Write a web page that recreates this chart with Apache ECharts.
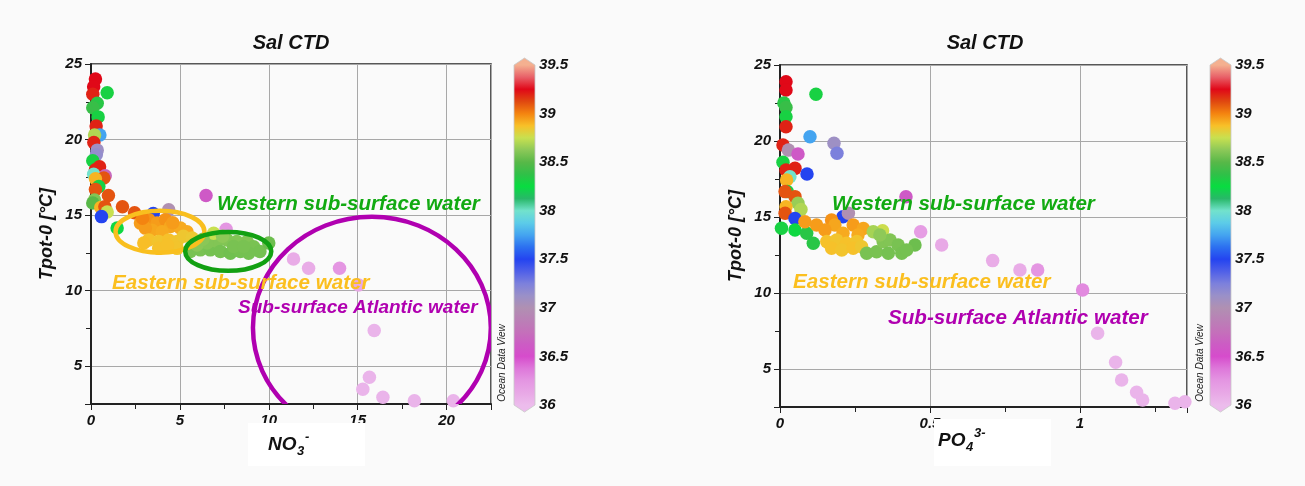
<!DOCTYPE html>
<html>
<head>
<meta charset="utf-8">
<script src="https://cdn.jsdelivr.net/npm/echarts@6/dist/echarts.min.js"></script>
<style>
  html, body { margin: 0; padding: 0; background: #fafafa; }
  #chart { width: 1305px; height: 486px; }
</style>
</head>
<body>
<div id="chart"></div>
<script>
// Salinity colour scale (ODV style), 36 → 39.5 in steps of 0.125
const salinityPalette = [
  '#ecbcec', '#e8a8e6', '#e496e2', '#de78da', '#d64ccc', '#cc5cc4', '#c470ba', '#ba80b6',
  '#b090b2', '#9a90c8', '#7c80dc', '#5060e8', '#2444f0', '#2c70f0', '#44a4f0', '#5ccce8',
  '#72e2cc', '#28b868', '#08dc40', '#30c048', '#58b848', '#8cc858', '#c8e050', '#f8c028',
  '#f48410', '#e04810', '#e00818', '#e86068', '#f4b090'
];
const salinityMin = 36;
const salinityMax = 39.5;

// Nitrate [µmol], potential temperature [°C], salinity
const nitrateSamples = [
  [0.25, 24.0, 39.25], [0.15, 23.5, 39.25], [0.1, 23.0, 39.2], [0.91, 23.1, 38.3],
  [0.35, 22.4, 38.35], [0.1, 22.1, 38.4], [0.4, 21.5, 38.3], [0.29, 20.9, 39.2],
  [0.5, 20.3, 37.75], [0.2, 20.3, 38.7], [0.16, 19.8, 39.2], [0.35, 19.3, 37.1],
  [0.3, 19.0, 37.15], [0.1, 18.6, 38.3], [0.48, 18.2, 39.2], [0.25, 18.0, 39.2],
  [0.15, 17.7, 38.0], [0.8, 17.6, 36.7], [0.72, 17.45, 39.1], [0.25, 17.4, 38.9],
  [0.44, 16.9, 38.3], [0.25, 16.7, 39.1], [0.98, 16.3, 39.1], [0.2, 16.0, 38.6],
  [0.1, 15.8, 38.5], [0.55, 15.5, 38.9], [0.78, 15.55, 39.1], [1.77, 15.55, 39.1],
  [0.91, 15.2, 38.75], [0.59, 14.9, 37.5], [2.45, 15.15, 39.1], [3.5, 15.1, 37.5],
  [4.37, 15.35, 37.0], [6.47, 16.3, 36.6], [1.47, 14.15, 38.27], [7.6, 14.07, 36.25],
  // eastern sub-surface water
  [2.78, 14.47, 38.95], [3.25, 14.7, 38.97], [3.72, 14.47, 38.95], [4.19, 14.7, 38.97],
  [4.47, 14.25, 38.93], [5.03, 14.14, 38.92], [5.4, 13.9, 38.92], [3.44, 14.0, 38.93],
  [4.0, 13.9, 38.92], [3.06, 14.14, 38.95], [2.9, 14.8, 39.0], [4.6, 14.5, 38.95],
  [3.25, 13.36, 38.87], [3.81, 13.25, 38.86], [4.37, 13.36, 38.87], [4.84, 13.25, 38.86],
  [5.2, 13.6, 38.85], [5.69, 13.48, 38.84], [3.81, 12.8, 38.87], [4.84, 12.8, 38.86],
  [2.97, 13.15, 38.88], [4.3, 13.0, 38.87],
  // western sub-surface water
  [5.59, 12.6, 38.58], [6.15, 12.7, 38.58], [6.71, 12.7, 38.57], [7.09, 13.25, 38.6],
  [7.65, 13.36, 38.6], [8.2, 13.25, 38.6], [8.78, 13.25, 38.6], [9.15, 12.9, 38.58],
  [9.5, 12.6, 38.57], [10.0, 13.15, 38.55], [7.28, 12.6, 38.57], [7.84, 12.48, 38.56],
  [8.4, 12.6, 38.57], [8.87, 12.48, 38.57], [6.53, 13.15, 38.6], [6.9, 13.8, 38.75],
  [5.96, 13.03, 38.62], [8.02, 12.92, 38.58], [8.58, 12.92, 38.58], [6.3, 13.4, 38.62],
  [7.4, 13.6, 38.63],
  // sub-surface Atlantic water
  [11.39, 12.1, 36.1], [12.24, 11.49, 36.1], [13.98, 11.49, 36.25], [15.05, 10.38, 36.12],
  [15.93, 7.36, 36.05], [15.66, 4.27, 36.05], [15.29, 3.48, 36.05], [16.42, 2.95, 36.05],
  [18.19, 2.72, 36.05], [20.38, 2.72, 36.05]
];

// Phosphate [µmol], potential temperature [°C], salinity
const phosphateSamples = [
  [0.02, 23.9, 39.25], [0.02, 23.35, 39.25], [0.12, 23.07, 38.3], [0.013, 22.5, 38.35],
  [0.02, 22.2, 38.4], [0.02, 21.6, 38.3], [0.02, 20.94, 39.2], [0.1, 20.28, 37.75],
  [0.18, 19.85, 37.1], [0.19, 19.19, 37.25], [0.01, 19.74, 39.2], [0.028, 19.4, 37.0],
  [0.06, 19.14, 36.6], [0.01, 18.6, 38.3], [0.05, 18.2, 39.2], [0.02, 18.09, 39.2],
  [0.09, 17.83, 37.5], [0.033, 17.65, 38.0], [0.022, 17.43, 38.9], [0.024, 16.67, 38.3],
  [0.017, 16.67, 39.1], [0.05, 16.34, 39.1], [0.06, 15.9, 38.65], [0.07, 15.5, 38.7],
  [0.02, 15.68, 38.9], [0.017, 15.24, 39.1], [0.05, 14.9, 37.5], [0.005, 14.26, 38.3],
  [0.05, 14.14, 38.27], [0.089, 13.93, 38.35], [0.111, 13.27, 38.35], [0.21, 15.02, 37.5],
  [0.228, 15.24, 37.0], [0.42, 16.33, 36.6],
  // eastern sub-surface water
  [0.083, 14.69, 38.95], [0.122, 14.47, 38.95], [0.172, 14.8, 38.97], [0.183, 14.47, 38.93],
  [0.244, 14.47, 38.95], [0.278, 14.25, 38.93], [0.15, 14.14, 38.95], [0.21, 13.93, 38.92],
  [0.26, 13.82, 38.92],
  [0.156, 13.38, 38.87], [0.189, 13.49, 38.86], [0.222, 13.27, 38.87], [0.256, 13.38, 38.86],
  [0.172, 12.94, 38.87], [0.206, 12.83, 38.86], [0.244, 12.94, 38.87], [0.272, 13.05, 38.85],
  [0.342, 14.1, 38.76], [0.311, 14.03, 38.68],
  // western sub-surface water
  [0.289, 12.61, 38.58], [0.322, 12.72, 38.58], [0.344, 13.38, 38.6], [0.367, 13.49, 38.6],
  [0.361, 12.61, 38.57], [0.394, 13.16, 38.58], [0.406, 12.61, 38.57], [0.45, 13.16, 38.55],
  [0.333, 13.82, 38.63], [0.422, 12.83, 38.57],
  // sub-surface Atlantic water
  [0.469, 14.03, 36.2], [0.539, 13.16, 36.12], [0.709, 12.13, 36.1], [0.8, 11.51, 36.1],
  [0.859, 11.51, 36.25], [1.009, 10.2, 36.3], [1.059, 7.35, 36.05], [1.119, 5.44, 36.05],
  [1.139, 4.28, 36.05], [1.189, 3.47, 36.05], [1.209, 2.96, 36.05], [1.317, 2.74, 36.05],
  [1.35, 2.85, 36.05]
];

const plotTitle = 'Sal CTD';
const tempAxisName = 'Tpot-0 [°C]';

// Water-mass outlines drawn in the nitrate panel: centre (x, y) and radii, in data units
const nitrateOutlines = [
  { c: [3.88, 13.9], r: [2.5, 1.39], color: '#f9bf1e' },
  { c: [7.72, 12.6], r: [2.42, 1.29], color: '#12a012' },
  { c: [15.8, 7.54], r: [6.69, 7.35], color: '#b000b0' }
];

const FONT = "'Liberation Sans', Arial, sans-serif";
const GREEN = '#12aa12', GOLD = '#fbbf1f', MAGENTA = '#b000b0';

const chart = echarts.init(document.getElementById('chart'));

function plotAxes(gridIndex, max, interval) {
  const tickLabel = { fontFamily: FONT, fontSize: 15, fontWeight: 'bold', fontStyle: 'italic', color: '#111' };
  const x = {
    type: 'value', gridIndex, min: 0, max,
    axisLine: { show: true, onZero: false, lineStyle: { color: '#222', width: 2 } },
    axisTick: { show: true, inside: false, length: 6, lineStyle: { color: '#222', width: 1 } },
    minorTick: { show: true, splitNumber: 2, length: 5, lineStyle: { color: '#222', width: 1 } },
    axisLabel: Object.assign({ margin: 9, showMaxLabel: false }, tickLabel),
    splitLine: { show: true, lineStyle: { color: '#a8a8a8', width: 1 } }
  };
  if (interval) x.interval = interval;
  const y = {
    type: 'value', gridIndex, min: 2.5, max: 25, splitNumber: 5,
    name: tempAxisName, nameLocation: 'middle', nameGap: 35, nameRotate: 90,
    nameTextStyle: { fontFamily: FONT, fontSize: 18, fontWeight: 'bold', fontStyle: 'italic', color: '#111' },
    axisLine: { show: true, onZero: false, lineStyle: { color: '#222', width: 2 } },
    axisTick: { show: true, inside: false, length: 6, lineStyle: { color: '#222', width: 1 } },
    minorTick: { show: true, splitNumber: 2, length: 5, lineStyle: { color: '#222', width: 1 } },
    axisLabel: Object.assign({ margin: 9, showMinLabel: false }, tickLabel),
    splitLine: { show: true, lineStyle: { color: '#a8a8a8', width: 1 } }
  };
  return { x, y };
}

function colorbarAxes(gridIndex) {
  return {
    x: { type: 'value', gridIndex, min: 0, max: 1, show: false },
    y: {
      type: 'value', gridIndex, min: salinityMin, max: salinityMax, interval: 0.5, position: 'right',
      axisLine: { show: false }, axisTick: { show: false }, splitLine: { show: false },
      axisLabel: { margin: 4, fontFamily: FONT, fontSize: 15, fontWeight: 'bold', fontStyle: 'italic', color: '#111' }
    }
  };
}

const gradientStops = salinityPalette.map((c, i) => ({ offset: i / (salinityPalette.length - 1), color: c }));

function colorbarSeries(axisIndex) {
  return {
    type: 'custom', xAxisIndex: axisIndex, yAxisIndex: axisIndex, silent: true,
    data: [[salinityMin, salinityMax]],
    renderItem(params, api) {
      const p0 = api.coord([0, api.value(1)]);
      const p1 = api.coord([1, api.value(0)]);
      const x0 = p0[0], x1 = p1[0], y0 = p0[1], y1 = p1[1], mid = (x0 + x1) / 2, cap = 7;
      return {
        type: 'group',
        children: [
          { type: 'rect', shape: { x: x0, y: y0, width: x1 - x0, height: y1 - y0 },
            style: { fill: new echarts.graphic.LinearGradient(0, 1, 0, 0, gradientStops) } },
          { type: 'polygon', shape: { points: [[x0, y0], [mid, y0 - cap], [x1, y0]] },
            style: { fill: salinityPalette[salinityPalette.length - 1] } },
          { type: 'polygon', shape: { points: [[x0, y1], [mid, y1 + cap], [x1, y1]] },
            style: { fill: salinityPalette[0] } },
          { type: 'polygon', shape: { points: [[x0, y0], [mid, y0 - cap], [x1, y0], [x1, y1], [mid, y1 + cap], [x0, y1]] },
            style: { fill: 'none', stroke: '#c8c8c8', lineWidth: 0.8 } }
        ]
      };
    }
  };
}

const left = plotAxes(0, 22.5, 5);
const right = plotAxes(1, 1.357, 0.5);
const cbL = colorbarAxes(2);
const cbR = colorbarAxes(3);

function textEl(x, y, text, size, color, extra, align) {
  return Object.assign({
    type: 'text', x, y, z: 30,
    style: { text, fontFamily: FONT, fontSize: size, fontWeight: 'bold', fontStyle: 'italic',
             fill: color, align: align || 'left', verticalAlign: 'middle' }
  }, extra || {});
}

function odvMark(x) {
  return {
    type: 'text', x, y: 363, rotation: Math.PI / 2, z: 30,
    style: { text: 'Ocean Data View', fontFamily: FONT, fontSize: 10, fontStyle: 'italic',
             fill: '#222', align: 'center', verticalAlign: 'middle' }
  };
}

const graphics = [
  textEl(291, 43, plotTitle, 20, '#111', null, 'center'),
  textEl(985, 43, plotTitle, 20, '#111', null, 'center'),
  // water-mass labels, nitrate panel
  textEl(217, 204, 'Western sub-surface water', 20.6, GREEN),
  textEl(112, 283, 'Eastern sub-surface water', 20.6, GOLD),
  textEl(238, 308, 'Sub-surface Atlantic water', 19, MAGENTA),
  // water-mass labels, phosphate panel
  textEl(832, 204, 'Western sub-surface water', 20.6, GREEN),
  textEl(793, 282, 'Eastern sub-surface water', 20.6, GOLD),
  textEl(888, 318, 'Sub-surface Atlantic water', 20.6, MAGENTA),
  odvMark(502),
  odvMark(1200),
  // x-axis names on white panels
  { type: 'rect', z: 40, shape: { x: 248, y: 423, width: 117, height: 43 }, style: { fill: '#ffffff' } },
  textEl(268, 445, 'NO', 19, '#111', { z: 41 }),
  textEl(297, 451, '3', 13, '#111', { z: 41 }),
  textEl(305, 437, '-', 13, '#111', { z: 41 }),
  { type: 'rect', z: 40, shape: { x: 934, y: 419, width: 117, height: 47 }, style: { fill: '#ffffff' } },
  textEl(938, 441, 'PO', 19, '#111', { z: 41 }),
  textEl(966, 447, '4', 13, '#111', { z: 41 }),
  textEl(974, 433, '3-', 13, '#111', { z: 41 })
];

const option = {
  backgroundColor: '#fafafa',
  animation: false,
  grid: [
    { left: 91, top: 64, width: 400, height: 340, show: true, borderColor: '#222', borderWidth: 1.5, backgroundColor: 'transparent' },
    { left: 780, top: 65, width: 407, height: 342, show: true, borderColor: '#222', borderWidth: 1.5, backgroundColor: 'transparent' },
    { left: 514, top: 65, width: 21, height: 340 },
    { left: 1210, top: 65, width: 21, height: 340 }
  ],
  xAxis: [left.x, right.x, cbL.x, cbR.x],
  yAxis: [left.y, right.y, cbL.y, cbR.y],
  visualMap: {
    show: false, type: 'continuous', dimension: 2, seriesIndex: [0, 1],
    min: salinityMin, max: salinityMax, inRange: { color: salinityPalette }
  },
  graphic: graphics,
  series: [
    { type: 'scatter', xAxisIndex: 0, yAxisIndex: 0, data: nitrateSamples, symbolSize: 13.5, z: 2,
      itemStyle: { opacity: 1 } },
    { type: 'scatter', xAxisIndex: 1, yAxisIndex: 1, data: phosphateSamples, symbolSize: 13.5, z: 2,
      itemStyle: { opacity: 1 } },
    {
      type: 'custom', xAxisIndex: 0, yAxisIndex: 0, z: 20, silent: true,
      data: nitrateOutlines.map((o, i) => [o.c[0], o.c[1], i]),
      renderItem(params, api) {
        const o = nitrateOutlines[api.value(2)];
        const c = api.coord(o.c);
        const s = api.size(o.r);
        const cs = params.coordSys;
        return {
          type: 'group',
          clipPath: { type: 'rect', shape: { x: cs.x, y: cs.y, width: cs.width, height: cs.height } },
          children: [{
            type: 'ellipse', shape: { cx: c[0], cy: c[1], rx: s[0], ry: s[1] },
            style: { fill: 'none', stroke: o.color, lineWidth: 4.5 }
          }]
        };
      }
    },
    colorbarSeries(2),
    colorbarSeries(3)
  ]
};

chart.setOption(option);
</script>
</body>
</html>
